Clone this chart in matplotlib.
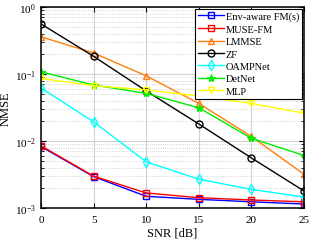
import numpy as np
import matplotlib
matplotlib.use("Agg")
import matplotlib.pyplot as plt

plt.rcParams['font.family'] = ['Liberation Serif', 'DejaVu Serif']
plt.rcParams['mathtext.fontset'] = 'stix'

snr = [0, 5, 10, 15, 20, 25]
env_fm = [0.0083, 0.00295, 0.0015, 0.00135, 0.00124, 0.00115]
muse_fm = [0.0085, 0.0030, 0.00168, 0.00143, 0.00132, 0.00124]
lmmse = [0.36, 0.206, 0.094, 0.0365, 0.0117, 0.0032]
zf = [0.56, 0.184, 0.056, 0.018, 0.0056, 0.0018]
oampnet = [0.062, 0.0194, 0.0049, 0.0027, 0.0019, 0.00146]
detnet = [0.108, 0.0686, 0.0515, 0.0314, 0.011, 0.0061]
mlp = [0.086, 0.067, 0.058, 0.047, 0.0365, 0.026]

fig = plt.figure(figsize=(3.2, 2.51), dpi=100)
ax = fig.add_axes([0.128, 0.167, 0.822, 0.801])

kw = dict(lw=1.0, ms=5, mfc='none', mew=1.0)
ax.semilogy(snr, env_fm, color='#0000ff', marker='s', label='Env-aware FM(s)', **kw)
ax.semilogy(snr, muse_fm, color='#ff0000', marker='s', label='MUSE-FM', **kw)
ax.semilogy(snr, lmmse, color='#ff7f0e', marker='^', label='LMMSE', **kw)
ax.semilogy(snr, zf, color='black', marker='o', label='ZF', **kw)
ax.semilogy(snr, oampnet, color='#00ffff', marker='d', label='OAMPNet', **kw)
ax.semilogy(snr, detnet, color='#00ee00', marker='*', lw=1.0, ms=6, mew=0.8, label='DetNet')
ax.semilogy(snr, mlp, color='#ffff00', marker='v', label='MLP', **kw)

ax.set_xlim(0, 25)
ax.set_ylim(1e-3, 1e0)
ax.set_xticks(snr)
ax.grid(True, which='major', color='#d0d0d0', lw=0.8)
ax.grid(True, which='minor', color='#c8c8c8', lw=0.6, ls=':')
ax.tick_params(which='both', direction='in', labelsize=8, top=True, right=True)
ax.tick_params(axis='x', pad=5)
ax.tick_params(which='minor', length=2)
for s in ax.spines.values():
    s.set_linewidth(1.1)

ax.set_xlabel('SNR [dB]', fontsize=9, labelpad=2)
ax.set_ylabel('NMSE', fontsize=9, labelpad=2)

leg = ax.legend(loc='upper right', fontsize=7.5, frameon=True, fancybox=False,
                edgecolor='black', framealpha=1, borderpad=0.3, labelspacing=0.3,
                handlelength=2.5, handletextpad=0.2, borderaxespad=0.15)
leg.get_frame().set_linewidth(0.8)

fig.savefig("out.png", dpi=100)
